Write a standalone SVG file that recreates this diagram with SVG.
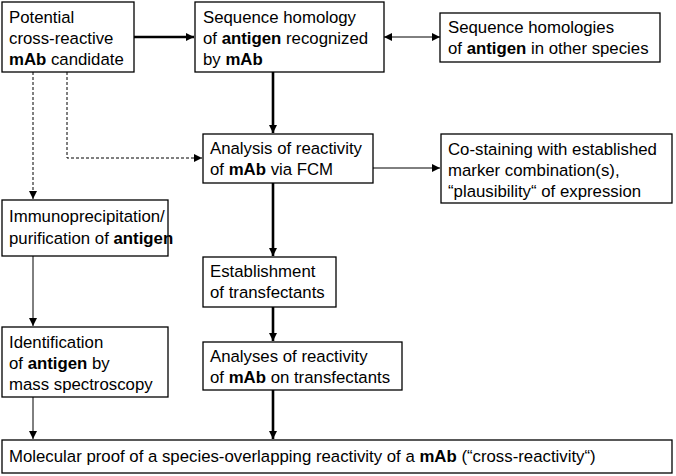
<svg xmlns="http://www.w3.org/2000/svg" width="676" height="476" viewBox="0 0 676 476">
<style>
rect{fill:#fff;stroke:#000;stroke-width:1.3}
text{font-family:"Liberation Sans",Arial,sans-serif;font-size:16.8px;fill:#000}
.b{font-weight:bold}
.c{fill:none;stroke:#000}
.t{stroke-width:2.6}
.n{stroke-width:1}
.d{stroke-width:1;stroke-dasharray:3,2}
</style>
<defs>
<marker id="a" viewBox="0 0 10 10" refX="10" refY="5" markerWidth="8" markerHeight="8" markerUnits="userSpaceOnUse" orient="auto-start-reverse"><path d="M0,0L10,5L0,10z"/></marker>
</defs>
<g id="connectors">
<path class="c t" d="M134,37H194" marker-end="url(#a)"/>
<path class="c n" d="M384,37H440" marker-end="url(#a)" marker-start="url(#a)"/>
<path class="c t" d="M273,72V133" marker-end="url(#a)"/>
<path class="c d" d="M67,72V158H202" marker-end="url(#a)"/>
<path class="c d" d="M33,72V199" marker-end="url(#a)"/>
<path class="c n" d="M373,168H440" marker-end="url(#a)"/>
<path class="c t" d="M273,183V256" marker-end="url(#a)"/>
<path class="c t" d="M273,307V341" marker-end="url(#a)"/>
<path class="c t" d="M273,390V439" marker-end="url(#a)"/>
<path class="c n" d="M33,256V326" marker-end="url(#a)"/>
<path class="c n" d="M33,397V439" marker-end="url(#a)"/>
</g>
<g id="n1"><rect x="2" y="2" width="132" height="70"/><text x="9" y="23">Potential</text><text x="9" y="44">cross-reactive</text><text x="9" y="65"><tspan class="b">mAb</tspan> candidate</text></g>
<g id="n2"><rect x="195" y="2" width="189" height="70"/><text x="203" y="23">Sequence homology</text><text x="203" y="44">of <tspan class="b">antigen</tspan> recognized</text><text x="203" y="65">by <tspan class="b">mAb</tspan></text></g>
<g id="n3"><rect x="440" y="13" width="220" height="49"/><text x="448" y="33">Sequence homologies</text><text x="448" y="54">of <tspan class="b">antigen</tspan> in other species</text></g>
<g id="n4"><rect x="203" y="134" width="170" height="49"/><text x="210" y="154">Analysis of reactivity</text><text x="210" y="175">of <tspan class="b">mAb</tspan> via FCM</text></g>
<g id="n5"><rect x="441" y="134" width="231" height="69"/><text x="448" y="155">Co-staining with established</text><text x="448" y="176">marker combination(s),</text><text x="448" y="197">“plausibility“ of expression</text></g>
<g id="n6"><rect x="2" y="200" width="166" height="56"/><text x="9" y="222">Immunoprecipitation/</text><text x="9" y="244">purification of <tspan class="b">antigen</tspan></text></g>
<g id="n7"><rect x="203" y="257" width="133" height="50"/><text x="210" y="277">Establishment</text><text x="210" y="298">of transfectants</text></g>
<g id="n8"><rect x="2" y="327" width="166" height="70"/><text x="9" y="348">Identification</text><text x="9" y="369">of <tspan class="b">antigen</tspan> by</text><text x="9" y="390">mass spectroscopy</text></g>
<g id="n9"><rect x="203" y="342" width="199" height="48"/><text x="210" y="362">Analyses of reactivity</text><text x="210" y="383">of <tspan class="b">mAb</tspan> on transfectants</text></g>
<g id="n10"><rect x="2" y="440" width="670" height="33"/><text x="9" y="462">Molecular proof of a species-overlapping reactivity of a <tspan class="b">mAb</tspan> (“cross-reactivity“)</text></g>
</svg>
